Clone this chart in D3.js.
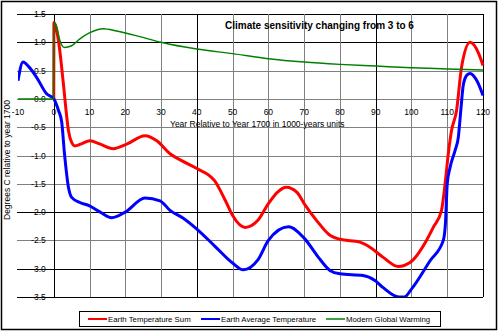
<!DOCTYPE html>
<html>
<head>
<meta charset="utf-8">
<script src="https://cdn.jsdelivr.net/npm/d3@7"></script>
<style>
  body { margin: 0; background: #fff; }
  svg { display: block; font-family: Arial, "Liberation Sans", sans-serif; }
</style>
</head>
<body>
<div id="chart"></div>
<script>
// Earth Temperature Sum (red)
var sumX = [0, 0.05, 1.3, 2.7, 3.6, 4.1, 5, 5.9, 7.5, 10.1, 13, 16.6, 20.4, 25.5, 28.8, 32.5, 36, 40, 45, 48, 50, 53.5, 57, 60, 62.5, 65, 68, 70, 73.5, 77.2, 80, 85.6, 88.4, 92.1, 96.3, 99.6, 104.2, 106.1, 108.4, 109.4, 110.3, 111.2, 112.6, 114, 116.4, 118.8, 120]
var sumY = [0, 1.35, 1.03, 0.26, -0.3, -0.56, -0.77, -0.83, -0.8, -0.74, -0.8, -0.88, -0.8, -0.65, -0.74, -0.97, -1.1, -1.23, -1.45, -1.8, -2.06, -2.27, -2.15, -1.85, -1.65, -1.56, -1.65, -1.85, -2.15, -2.41, -2.48, -2.53, -2.62, -2.8, -2.96, -2.89, -2.5, -2.27, -1.97, -1.5, -0.97, -0.56, -0.21, 0.56, 1.0, 0.8, 0.59]

// Earth Average Temperature (blue)
var avgX = [-10, -8.6, -7, -4.8, -2, 0, 1.3, 2.2, 3, 4.1, 5, 7.3, 10, 13, 16.2, 20, 25.5, 29.7, 32.5, 36, 40, 45, 50, 53, 57, 60, 65.6, 70, 74, 77.2, 80, 86.5, 89.8, 92, 96.5, 98, 100, 105.2, 108.9, 109.5, 110, 110.8, 112.2, 113.1, 113.8, 114.5, 115.5, 116.4, 118.3, 120]
var avgY = [0.32, 0.65, 0.57, 0.38, 0.09, 0, -0.2, -0.4, -0.97, -1.56, -1.74, -1.83, -1.89, -2.0, -2.1, -2.0, -1.75, -1.8, -1.97, -2.1, -2.3, -2.6, -2.9, -3.02, -2.85, -2.5, -2.26, -2.46, -2.8, -3.03, -3.09, -3.12, -3.21, -3.33, -3.5, -3.5, -3.36, -2.86, -2.5, -2.2, -1.5, -1.21, -0.91, -0.68, -0.2, 0.25, 0.42, 0.45, 0.32, 0.06]

// Modern Global Warming (green)
var modX = [-10, 0, 0.05, 0.8, 1.7, 2.9, 5, 7.3, 10.1, 13.8, 17.6, 24.1, 30, 40, 50, 60, 70, 80, 90, 100, 110, 120]
var modY = [0, 0, 1.35, 1.27, 1.03, 0.91, 0.94, 1.06, 1.17, 1.24, 1.2, 1.1, 1.0, 0.88, 0.8, 0.71, 0.65, 0.61, 0.58, 0.55, 0.53, 0.51]

var xTicks = d3.range(-10, 121, 10)
var yTicks = [1.5, 1.0, 0.5, 0.0, -0.5, -1.0, -1.5, -2.0, -2.5, -3.0, -3.5]
var darkY = [1.5, 1.0, -2.0, -3.0, -3.5]
var darkX = [0, 40, 90, 120]

var series = [
  { name: 'Earth Temperature Sum', xs: sumX, ys: sumY, color: '#ff0000', width: 3 },
  { name: 'Earth Average Temperature', xs: avgX, ys: avgY, color: '#0000ff', width: 3 },
  { name: 'Modern Global Warming', xs: modX, ys: modY, color: '#008000', width: 1.5 }
]

var W = 500, H = 332
var svg = d3.select('#chart').append('svg').attr('width', W).attr('height', H)

svg.append('rect').attr('x', 1.5).attr('y', 1.5).attr('width', 495).attr('height', 328)
  .attr('fill', '#fff').attr('stroke', '#000').attr('stroke-width', 1.5)

var x = d3.scaleLinear().domain([-10, 120]).range([18, 483])
var y = d3.scaleLinear().domain([-3.5, 1.5]).range([297, 14])

var grid = svg.append('g')
grid.selectAll('line.h').data(yTicks).enter().append('line')
  .attr('x1', 17).attr('x2', x(120))
  .attr('y1', function (d) { return Math.round(y(d)) + 0.5 })
  .attr('y2', function (d) { return Math.round(y(d)) + 0.5 })
  .attr('stroke', function (d) { return darkY.indexOf(d) >= 0 ? '#000' : '#808080' })
  .attr('stroke-width', 1)
grid.selectAll('line.v').data(xTicks.slice(1)).enter().append('line')
  .attr('y1', y(1.5)).attr('y2', y(-3.5))
  .attr('x1', function (d) { return Math.round(x(d)) + 0.5 })
  .attr('x2', function (d) { return Math.round(x(d)) + 0.5 })
  .attr('stroke', function (d) { return darkX.indexOf(d) >= 0 ? '#000' : '#808080' })
  .attr('stroke-width', 1)

// tick labels sit on the axes that cross at (0, 0)
svg.append('g').selectAll('text').data(xTicks).enter().append('text')
  .attr('x', function (d) { return x(d) })
  .attr('y', y(0) + 16)
  .attr('text-anchor', 'middle')
  .attr('font-size', 8.5)
  .attr('fill', '#000')
  .text(function (d) { return d })

svg.append('g').selectAll('text').data(yTicks).enter().append('text')
  .attr('x', x(0) - 8)
  .attr('y', function (d) { return y(d) + 3 })
  .attr('text-anchor', 'end')
  .attr('font-size', 8.5)
  .attr('fill', '#000')
  .text(function (d) { return d.toFixed(1) })

svg.append('text').attr('x', 170).attr('y', 127)
  .attr('font-size', 8.5).text('Year Relative to Year 1700  in 1000-years units')

svg.append('text').attr('transform', 'translate(10,160) rotate(-90)')
  .attr('text-anchor', 'middle').attr('font-size', 8.5)
  .text('Degrees C relative to year 1700')

svg.append('text').attr('x', 225).attr('y', 29)
  .attr('font-size', 10).attr('font-weight', 'bold')
  .text('Climate sensitivity changing from 3 to 6')

var line = d3.line()
  .x(function (d) { return x(d[0]) })
  .y(function (d) { return y(d[1]) })
  .curve(d3.curveMonotoneX)

svg.append('clipPath').attr('id', 'clip').append('rect')
  .attr('x', x(-10)).attr('y', y(1.5) - 2).attr('width', x(120) - x(-10) + 2).attr('height', y(-3.5) - y(1.5) + 2)

var plot = svg.append('g').attr('clip-path', 'url(#clip)')
series.forEach(function (s) {
  var pts = s.xs.map(function (v, i) { return [v, s.ys[i]] })
  plot.append('path').datum(pts)
    .attr('d', line)
    .attr('fill', 'none')
    .attr('stroke', s.color)
    .attr('stroke-width', s.width)
    .attr('stroke-linejoin', 'round')
})

// legend
var legend = svg.append('g')
legend.append('rect').attr('x', 79.5).attr('y', 311.5).attr('width', 361).attr('height', 15)
  .attr('fill', '#fff').attr('stroke', '#000').attr('stroke-width', 1)
var legendX = [88, 201, 326]
series.forEach(function (s, i) {
  legend.append('line')
    .attr('x1', legendX[i]).attr('x2', legendX[i] + 19)
    .attr('y1', 319).attr('y2', 319)
    .attr('stroke', s.color).attr('stroke-width', s.width === 3 ? 2 : 1.5)
  legend.append('text').attr('x', legendX[i] + 20).attr('y', 322)
    .attr('font-size', 7.8).text(s.name)
})
</script>
</body>
</html>
